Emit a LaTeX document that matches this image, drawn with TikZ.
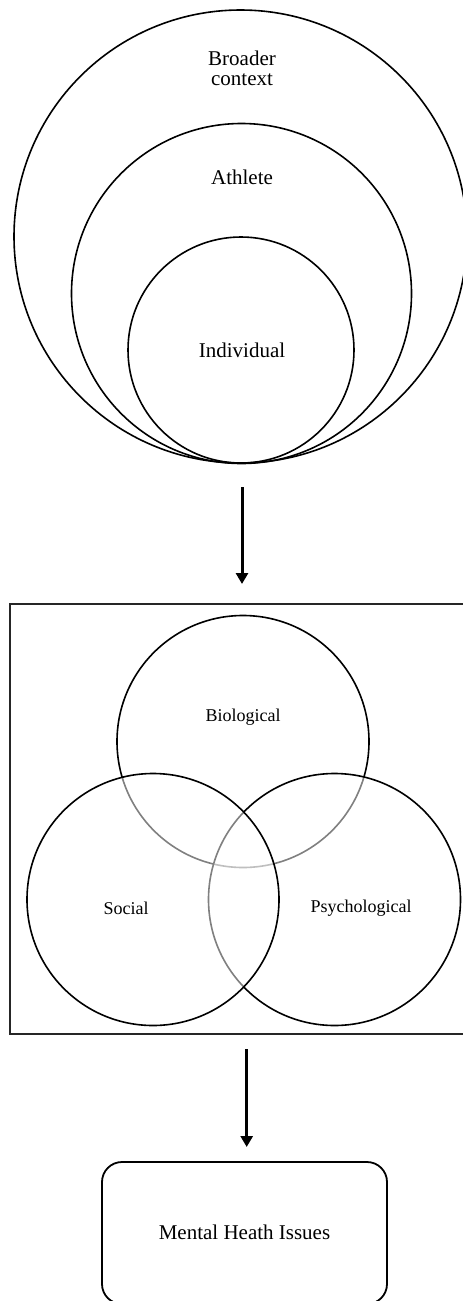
\documentclass[tikz,border=0pt]{standalone}
\usepackage{fontspec}
\setmainfont{Liberation Serif}
\usetikzlibrary{arrows.meta}
\begin{document}
\begin{tikzpicture}[x=1pt,y=-1pt,
  ring/.style={circle,draw=black,line width=1.6pt,inner sep=0pt},
  venn/.style={circle,draw=black,line width=1.6pt,inner sep=0pt,
    minimum size=252pt,fill=white,fill opacity=0.5,draw opacity=1},
  biglabel/.style={font=\fontsize{21}{23}\selectfont,align=center,inner sep=0pt},
  smalllabel/.style={font=\fontsize{18}{20}\selectfont,inner sep=0pt},
  flow/.style={line width=3pt,-{Triangle[length=11pt,width=12pt]}},
  outcome/.style={draw=black,line width=1.8pt,rounded corners=20pt,
    minimum width=285pt,minimum height=142pt,inner sep=0pt}]
\useasboundingbox (0,0) rectangle (463,1301);

% nested context circles, all touching at the bottom
\node[ring,minimum size=453pt] (outer) at (240.5,236.5) {};
\node[ring,minimum size=340pt] (athlete) at (241.5,293.5) {};
\node[ring,minimum size=226pt] (individual) at (241,350) {};
\node[biglabel] (lbroad) at (242,68) {Broader\\[-3pt]context};
\node[biglabel] (lathlete) at (242,177) {Athlete};
\node[biglabel] (lindiv) at (242,350) {Individual};

% first arrow
\coordinate (a1s) at (242,487);
\coordinate (a1e) at (242,584);
\draw[flow] (a1s) -- (a1e);

% frame around the Venn diagram
\draw[line width=2pt,draw=black!85] (470,604) -- (9.5,604) -- (9.5,1034) -- (470,1034);
\coordinate (frame) at (240,604);

% Venn circles, later ones veil the lines beneath them
\node[venn] (bio) at (243,741.5) {};
\node[venn] (psy) at (334.5,899.5) {};
\node[venn] (soc) at (153,899.5) {};
\node[smalllabel] (lbio) at (243,717) {Biological};
\node[smalllabel] (lsoc) at (126,908) {Social};
\node[smalllabel] (lpsy) at (361,908) {Psychological};

% second arrow
\coordinate (a2s) at (246.7,1049);
\coordinate (a2e) at (246.7,1147);
\draw[flow] (a2s) -- (a2e);

% outcome box, its lower edge running just past the page
\node[outcome,font=\fontsize{21}{23}\selectfont] (mental) at (244.5,1233) {};
\node[biglabel] (lmental) at (244.5,1232) {Mental Heath Issues};
\end{tikzpicture}
\end{document}
